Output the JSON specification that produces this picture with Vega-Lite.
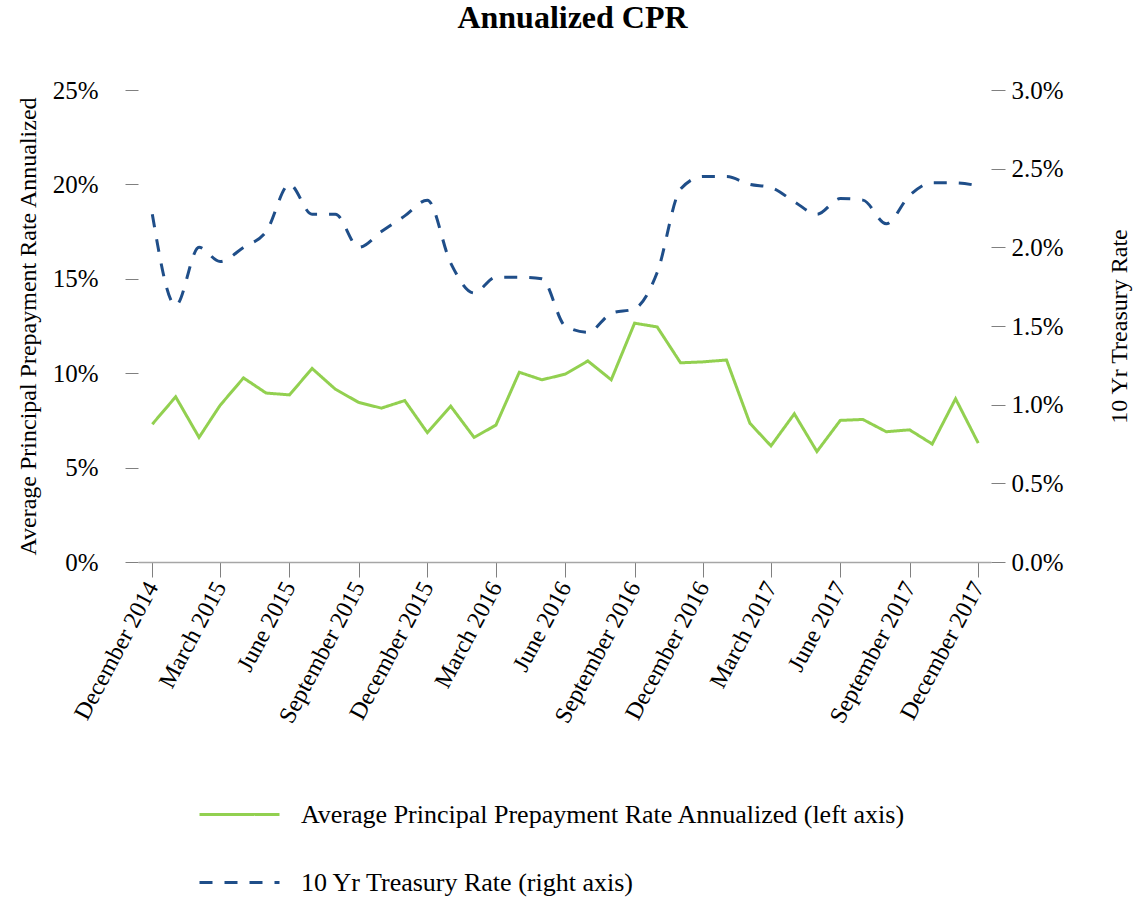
{
  "$schema": "https://vega.github.io/schema/vega-lite/v6.json",
  "width": 853,
  "height": 472,
  "autosize": "none",
  "padding": {"left": 138, "top": 90, "right": 146, "bottom": 339},
  "background": "white",
  "config": {
    "font": "Liberation Serif",
    "view": {"stroke": null},
    "axis": {"grid": false, "labelColor": "#000000", "titleColor": "#000000", "labelFont": "Liberation Serif", "titleFont": "Liberation Serif"}
  },
  "title": {"text": "Annualized CPR", "font": "Liberation Serif", "fontSize": 32, "fontWeight": "bold", "color": "#000000", "anchor": "middle", "offset": 43, "dx": 8},
  "data": {
    "values": [
      {"date": "2014/12/01", "series": "Average Principal Prepayment Rate Annualized (left axis)", "value": 7.3},
      {"date": "2015/01/01", "series": "Average Principal Prepayment Rate Annualized (left axis)", "value": 8.75},
      {"date": "2015/02/01", "series": "Average Principal Prepayment Rate Annualized (left axis)", "value": 6.6},
      {"date": "2015/03/01", "series": "Average Principal Prepayment Rate Annualized (left axis)", "value": 8.3},
      {"date": "2015/04/01", "series": "Average Principal Prepayment Rate Annualized (left axis)", "value": 9.75},
      {"date": "2015/05/01", "series": "Average Principal Prepayment Rate Annualized (left axis)", "value": 8.95},
      {"date": "2015/06/01", "series": "Average Principal Prepayment Rate Annualized (left axis)", "value": 8.85},
      {"date": "2015/07/01", "series": "Average Principal Prepayment Rate Annualized (left axis)", "value": 10.25},
      {"date": "2015/08/01", "series": "Average Principal Prepayment Rate Annualized (left axis)", "value": 9.15},
      {"date": "2015/09/01", "series": "Average Principal Prepayment Rate Annualized (left axis)", "value": 8.45},
      {"date": "2015/10/01", "series": "Average Principal Prepayment Rate Annualized (left axis)", "value": 8.15},
      {"date": "2015/11/01", "series": "Average Principal Prepayment Rate Annualized (left axis)", "value": 8.55},
      {"date": "2015/12/01", "series": "Average Principal Prepayment Rate Annualized (left axis)", "value": 6.85},
      {"date": "2016/01/01", "series": "Average Principal Prepayment Rate Annualized (left axis)", "value": 8.25},
      {"date": "2016/02/01", "series": "Average Principal Prepayment Rate Annualized (left axis)", "value": 6.6},
      {"date": "2016/03/01", "series": "Average Principal Prepayment Rate Annualized (left axis)", "value": 7.25},
      {"date": "2016/04/01", "series": "Average Principal Prepayment Rate Annualized (left axis)", "value": 10.05},
      {"date": "2016/05/01", "series": "Average Principal Prepayment Rate Annualized (left axis)", "value": 9.65},
      {"date": "2016/06/01", "series": "Average Principal Prepayment Rate Annualized (left axis)", "value": 9.95},
      {"date": "2016/07/01", "series": "Average Principal Prepayment Rate Annualized (left axis)", "value": 10.65},
      {"date": "2016/08/01", "series": "Average Principal Prepayment Rate Annualized (left axis)", "value": 9.65},
      {"date": "2016/09/01", "series": "Average Principal Prepayment Rate Annualized (left axis)", "value": 12.65},
      {"date": "2016/10/01", "series": "Average Principal Prepayment Rate Annualized (left axis)", "value": 12.45},
      {"date": "2016/11/01", "series": "Average Principal Prepayment Rate Annualized (left axis)", "value": 10.55},
      {"date": "2016/12/01", "series": "Average Principal Prepayment Rate Annualized (left axis)", "value": 10.6},
      {"date": "2017/01/01", "series": "Average Principal Prepayment Rate Annualized (left axis)", "value": 10.7},
      {"date": "2017/02/01", "series": "Average Principal Prepayment Rate Annualized (left axis)", "value": 7.35},
      {"date": "2017/03/01", "series": "Average Principal Prepayment Rate Annualized (left axis)", "value": 6.15},
      {"date": "2017/04/01", "series": "Average Principal Prepayment Rate Annualized (left axis)", "value": 7.85},
      {"date": "2017/05/01", "series": "Average Principal Prepayment Rate Annualized (left axis)", "value": 5.85},
      {"date": "2017/06/01", "series": "Average Principal Prepayment Rate Annualized (left axis)", "value": 7.5},
      {"date": "2017/07/01", "series": "Average Principal Prepayment Rate Annualized (left axis)", "value": 7.55},
      {"date": "2017/08/01", "series": "Average Principal Prepayment Rate Annualized (left axis)", "value": 6.9},
      {"date": "2017/09/01", "series": "Average Principal Prepayment Rate Annualized (left axis)", "value": 7.0},
      {"date": "2017/10/01", "series": "Average Principal Prepayment Rate Annualized (left axis)", "value": 6.25},
      {"date": "2017/11/01", "series": "Average Principal Prepayment Rate Annualized (left axis)", "value": 8.65},
      {"date": "2017/12/01", "series": "Average Principal Prepayment Rate Annualized (left axis)", "value": 6.3},
      {"date": "2014/12/01", "series": "10 Yr Treasury Rate (right axis)", "value": 2.21},
      {"date": "2015/01/01", "series": "10 Yr Treasury Rate (right axis)", "value": 1.63},
      {"date": "2015/02/01", "series": "10 Yr Treasury Rate (right axis)", "value": 2.0},
      {"date": "2015/03/01", "series": "10 Yr Treasury Rate (right axis)", "value": 1.91},
      {"date": "2015/04/01", "series": "10 Yr Treasury Rate (right axis)", "value": 2.0},
      {"date": "2015/05/01", "series": "10 Yr Treasury Rate (right axis)", "value": 2.1},
      {"date": "2015/06/01", "series": "10 Yr Treasury Rate (right axis)", "value": 2.4},
      {"date": "2015/07/01", "series": "10 Yr Treasury Rate (right axis)", "value": 2.21},
      {"date": "2015/08/01", "series": "10 Yr Treasury Rate (right axis)", "value": 2.21},
      {"date": "2015/09/01", "series": "10 Yr Treasury Rate (right axis)", "value": 2.0},
      {"date": "2015/10/01", "series": "10 Yr Treasury Rate (right axis)", "value": 2.1},
      {"date": "2015/11/01", "series": "10 Yr Treasury Rate (right axis)", "value": 2.2},
      {"date": "2015/12/01", "series": "10 Yr Treasury Rate (right axis)", "value": 2.3},
      {"date": "2016/01/01", "series": "10 Yr Treasury Rate (right axis)", "value": 1.9},
      {"date": "2016/02/01", "series": "10 Yr Treasury Rate (right axis)", "value": 1.71},
      {"date": "2016/03/01", "series": "10 Yr Treasury Rate (right axis)", "value": 1.81},
      {"date": "2016/04/01", "series": "10 Yr Treasury Rate (right axis)", "value": 1.81},
      {"date": "2016/05/01", "series": "10 Yr Treasury Rate (right axis)", "value": 1.8},
      {"date": "2016/06/01", "series": "10 Yr Treasury Rate (right axis)", "value": 1.5},
      {"date": "2016/07/01", "series": "10 Yr Treasury Rate (right axis)", "value": 1.46},
      {"date": "2016/08/01", "series": "10 Yr Treasury Rate (right axis)", "value": 1.58},
      {"date": "2016/09/01", "series": "10 Yr Treasury Rate (right axis)", "value": 1.61},
      {"date": "2016/10/01", "series": "10 Yr Treasury Rate (right axis)", "value": 1.84},
      {"date": "2016/11/01", "series": "10 Yr Treasury Rate (right axis)", "value": 2.37},
      {"date": "2016/12/01", "series": "10 Yr Treasury Rate (right axis)", "value": 2.45},
      {"date": "2017/01/01", "series": "10 Yr Treasury Rate (right axis)", "value": 2.45},
      {"date": "2017/02/01", "series": "10 Yr Treasury Rate (right axis)", "value": 2.4},
      {"date": "2017/03/01", "series": "10 Yr Treasury Rate (right axis)", "value": 2.38},
      {"date": "2017/04/01", "series": "10 Yr Treasury Rate (right axis)", "value": 2.29},
      {"date": "2017/05/01", "series": "10 Yr Treasury Rate (right axis)", "value": 2.21},
      {"date": "2017/06/01", "series": "10 Yr Treasury Rate (right axis)", "value": 2.31},
      {"date": "2017/07/01", "series": "10 Yr Treasury Rate (right axis)", "value": 2.3},
      {"date": "2017/08/01", "series": "10 Yr Treasury Rate (right axis)", "value": 2.15},
      {"date": "2017/09/01", "series": "10 Yr Treasury Rate (right axis)", "value": 2.33},
      {"date": "2017/10/01", "series": "10 Yr Treasury Rate (right axis)", "value": 2.41},
      {"date": "2017/11/01", "series": "10 Yr Treasury Rate (right axis)", "value": 2.41},
      {"date": "2017/12/01", "series": "10 Yr Treasury Rate (right axis)", "value": 2.39}
    ]
  },
  "encoding": {
    "x": {
      "field": "date",
      "type": "temporal",
      "scale": {"domain": [{"year": 2014, "month": 11, "date": 12}, {"year": 2017, "month": 12, "date": 18}], "nice": false},
      "axis": {
        "title": null,
        "values": [
          {"year": 2014, "month": 12, "date": 1},
          {"year": 2015, "month": 3, "date": 1},
          {"year": 2015, "month": 6, "date": 1},
          {"year": 2015, "month": 9, "date": 1},
          {"year": 2015, "month": 12, "date": 1},
          {"year": 2016, "month": 3, "date": 1},
          {"year": 2016, "month": 6, "date": 1},
          {"year": 2016, "month": 9, "date": 1},
          {"year": 2016, "month": 12, "date": 1},
          {"year": 2017, "month": 3, "date": 1},
          {"year": 2017, "month": 6, "date": 1},
          {"year": 2017, "month": 9, "date": 1},
          {"year": 2017, "month": 12, "date": 1}
        ],
        "format": "%B %Y",
        "labelAngle": -62,
        "labelAlign": "right",
        "labelBaseline": "middle",
        "labelFontSize": 24,
        "labelPadding": 6,
        "labelOverlap": false,
        "labelFlush": false,
        "tickSize": 15,
        "tickColor": "#808080",
        "domainColor": "#a6a6a6",
        "domainWidth": 1.5
      }
    },
    "color": {
      "field": "series",
      "type": "nominal",
      "scale": {"domain": ["Average Principal Prepayment Rate Annualized (left axis)", "10 Yr Treasury Rate (right axis)"], "range": ["#92D050", "#1F4E89"]},
      "legend": {
        "title": null,
        "orient": "none",
        "legendX": 60,
        "legendY": 683,
        "direction": "vertical",
        "symbolType": "stroke",
        "symbolSize": 6400,
        "symbolStrokeWidth": 3,
        "labelFontSize": 26,
        "labelFont": "Liberation Serif",
        "labelColor": "#000000",
        "labelLimit": 0,
        "labelOffset": 20,
        "rowPadding": 13
      }
    },
    "strokeDash": {
      "field": "series",
      "type": "nominal",
      "scale": {"domain": ["Average Principal Prepayment Rate Annualized (left axis)", "10 Yr Treasury Rate (right axis)"], "range": [[1, 0], [13, 12]]},
      "legend": {
        "title": null,
        "orient": "none",
        "legendX": 60,
        "legendY": 683,
        "direction": "vertical",
        "symbolType": "stroke",
        "symbolSize": 6400,
        "symbolStrokeWidth": 3,
        "labelFontSize": 26,
        "labelFont": "Liberation Serif",
        "labelColor": "#000000",
        "labelLimit": 0,
        "labelOffset": 20,
        "rowPadding": 13
      }
    }
  },
  "layer": [
    {
      "transform": [{"filter": "datum.series === 'Average Principal Prepayment Rate Annualized (left axis)'"}],
      "mark": {"type": "line", "strokeWidth": 3},
      "encoding": {
        "y": {
          "field": "value",
          "type": "quantitative",
          "scale": {"domain": [0, 25], "nice": false, "zero": true},
          "axis": {
            "orient": "left",
            "values": [0, 5, 10, 15, 20, 25],
            "labelExpr": "datum.value + '%'",
            "labelFontSize": 25,
            "labelPadding": 27,
            "tickSize": 13,
            "tickColor": "#808080",
            "domain": false,
            "title": "Average Principal Prepayment Rate Annualized",
            "titleFontSize": 24,
            "titleFontWeight": "normal",
            "titlePadding": 12
          }
        }
      }
    },
    {
      "transform": [{"filter": "datum.series === '10 Yr Treasury Rate (right axis)'"}],
      "mark": {"type": "line", "strokeWidth": 3, "interpolate": "monotone"},
      "encoding": {
        "y": {
          "field": "value",
          "type": "quantitative",
          "scale": {"domain": [0, 3], "nice": false, "zero": true},
          "axis": {
            "orient": "right",
            "values": [0, 0.5, 1, 1.5, 2, 2.5, 3],
            "labelExpr": "format(datum.value, '.1f') + '%'",
            "labelFontSize": 25,
            "labelPadding": 6,
            "tickSize": 14,
            "tickColor": "#808080",
            "domain": false,
            "title": "10 Yr Treasury Rate",
            "titleAngle": 270,
            "titleFontSize": 24,
            "titleFontWeight": "normal",
            "titlePadding": 68
          }
        }
      }
    }
  ],
  "resolve": {"scale": {"y": "independent"}}
}
